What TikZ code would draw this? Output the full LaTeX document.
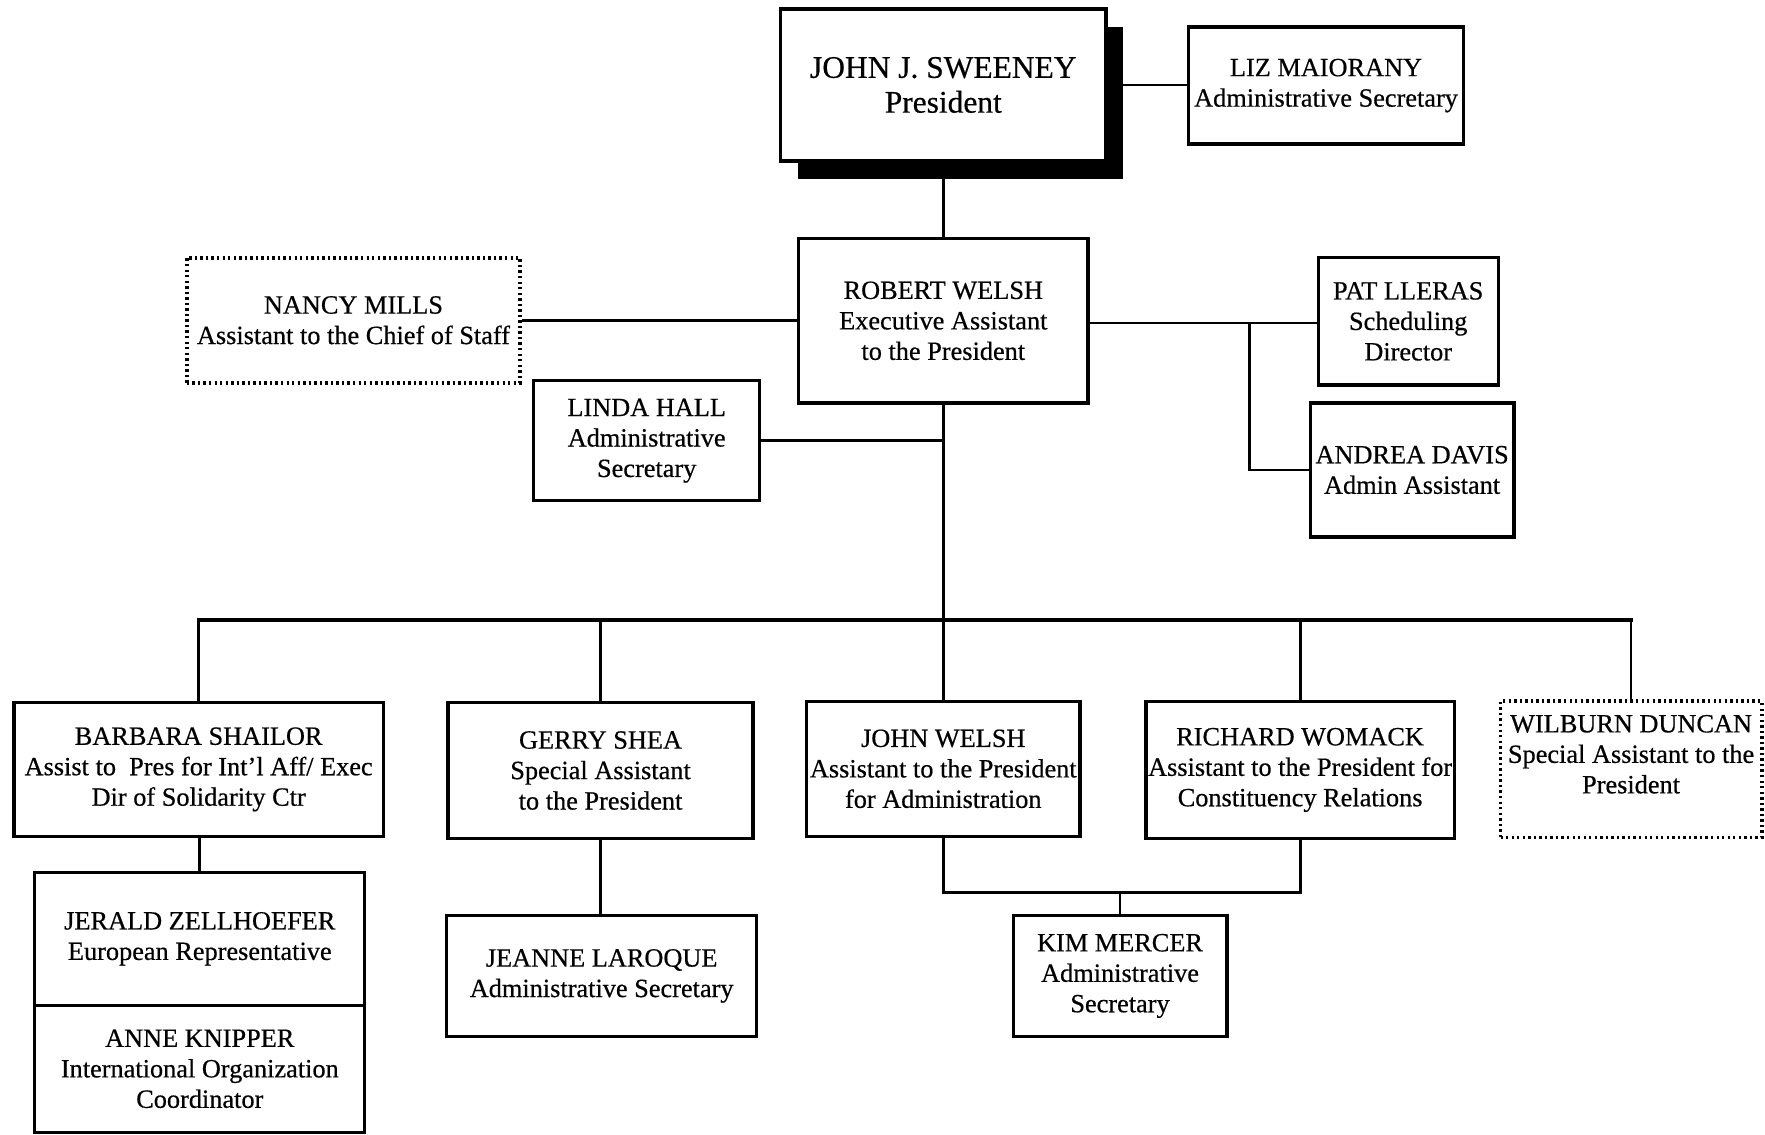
\documentclass[tikz,border=0pt]{standalone}
\usepackage{fontspec}
\setmainfont[FakeBold=0.5]{Liberation Serif}
\usepackage{tikz}
\usetikzlibrary{shadows}

\begin{document}
\begin{tikzpicture}[
		box/.style={draw, line width=.8pt, fill=white, align=center, inner sep=0pt, font=\fontsize{6.65pt}{7.7pt}\selectfont},
		dotbox/.style={box, line width=1pt, dash pattern=on .6pt off .8pt},
		link/.style={line width=.7pt}]
			\useasboundingbox (0,0) rectangle (15.68,-10.08);
			
			\node[box, minimum width=2.89cm, minimum height=1.35cm, font=\fontsize{7.95pt}{8.8pt}\selectfont,
				drop shadow={shadow xshift=.15cm, shadow yshift=-.16cm, opacity=1, fill=black}] (sweeney) at (8.38,-.755) {JOHN J. SWEENEY\\President};
			\node[box, minimum width=2.44cm, minimum height=1.04cm] (maiorany) at (11.78,-.76) {LIZ MAIORANY\\Administrative Secretary};
			\node[box, minimum width=2.57cm, minimum height=1.46cm] (rwelsh) at (8.38,-2.85) {ROBERT WELSH\\Executive Assistant\\to the President};
			\node[dotbox, minimum width=2.96cm, minimum height=1.11cm] (mills) at (3.14,-2.845) {NANCY MILLS\\Assistant to the Chief of Staff};
			\node[box, minimum width=1.60cm, minimum height=1.13cm] (lleras) at (12.51,-2.855) {PAT LLERAS\\Scheduling\\Director};
			\node[box, minimum width=1.81cm, minimum height=1.19cm] (davis) at (12.545,-4.175) {ANDREA DAVIS\\Admin Assistant};
			\node[box, minimum width=2.01cm, minimum height=1.07cm] (hall) at (5.745,-3.915) {LINDA HALL\\Administrative\\Secretary};
			
			\node[box, minimum width=3.28cm, minimum height=1.19cm] (shailor) at (1.765,-6.835) {BARBARA SHAILOR\\Assist to~ Pres for Int'l Aff/ Exec\\Dir of Solidarity Ctr};
			\node[box, minimum width=2.71cm, minimum height=1.21cm] (shea) at (5.335,-6.845) {GERRY SHEA\\Special Assistant\\to the President};
			\node[box, minimum width=2.43cm, minimum height=1.20cm] (jwelsh) at (8.38,-6.83) {JOHN WELSH\\Assistant to the President\\for Administration};
			\node[box, minimum width=2.74cm, minimum height=1.22cm] (womack) at (11.55,-6.84) {RICHARD WOMACK\\Assistant to the President for\\Constituency Relations};
			\node[dotbox, minimum width=2.32cm, minimum height=1.21cm] (duncan) at (14.49,-6.835) {WILBURN DUNCAN\\Special Assistant to the\\President\\\mbox{}};
			\node[box, minimum width=2.93cm, minimum height=1.18cm] (zellhoefer) at (1.775,-8.34) {JERALD ZELLHOEFER\\European Representative};
			\node[box, minimum width=2.93cm, minimum height=1.13cm] (knipper) at (1.775,-9.495) {ANNE KNIPPER\\International Organization\\Coordinator};
			\node[box, minimum width=2.75cm, minimum height=1.08cm] (laroque) at (5.345,-8.67) {JEANNE LAROQUE\\Administrative Secretary};
			\node[box, minimum width=1.90cm, minimum height=1.08cm] (mercer) at (9.95,-8.67) {KIM MERCER\\Administrative\\Secretary};
			
			\draw[link] (sweeney.east) -- (sweeney.east -| maiorany.west);
			\draw[link] (sweeney.south) -- (rwelsh.north);
			\draw[link] (mills.east) -- (mills.east -| rwelsh.west);
			\coordinate (split) at (11.10,-2.87);
			\draw[link] (rwelsh.east |- split) -- (split) -- (split -| lleras.west);
			\draw[link] (split) -- (split |- davis.west) -- (davis.west);
			\draw[link] (hall.east) -- (hall.east -| rwelsh.south);
			
			\coordinate (bus) at (8.38,-5.51);
			\draw[link] (rwelsh.south) -- (bus);
			\draw[link, line width=1pt, line cap=rect] (shailor.north |- bus) -- (duncan.north |- bus);
			\foreach \n in {shailor,shea,jwelsh,womack,duncan}
				\draw[link] (\n.north |- bus) -- (\n.north);
			
			\draw[link] (zellhoefer.north |- shailor.south) -- (zellhoefer.north);
			\draw[link] (shea.south) -- (shea.south |- laroque.north);
			\coordinate (merge) at (9.95,-7.93);
			\draw[link] (jwelsh.south) -- (jwelsh.south |- merge) -- (womack.south |- merge) -- (womack.south);
			\draw[link] (merge) -- (mercer.north);
		\end{tikzpicture}
\end{document}
